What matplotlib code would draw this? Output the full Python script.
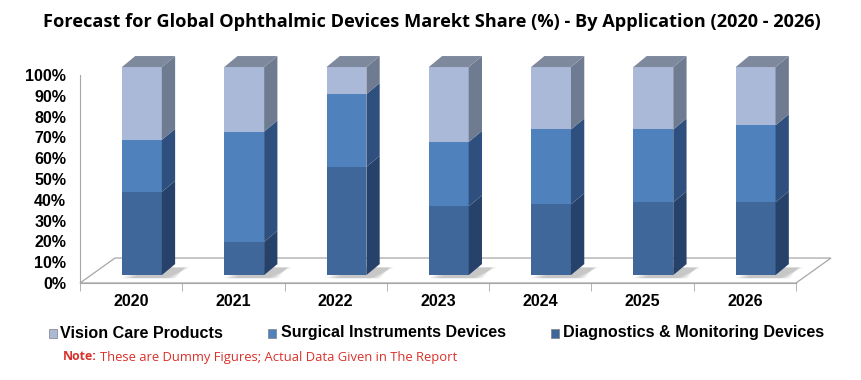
import numpy as np
import matplotlib
matplotlib.use('Agg')
import matplotlib.pyplot as plt
from matplotlib.patches import Polygon, Rectangle

years = ['2020', '2021', '2022', '2023', '2024', '2025', '2026']
diagnostics = [40, 16, 52, 33, 34, 35, 35]
surgical = [25, 53, 35, 31, 36, 35, 37]
vision = [35, 31, 13, 36, 30, 30, 28]

series = [
    ('Diagnostics & Monitoring Devices', diagnostics, '#40679A', '#27426A'),
    ('Surgical Instruments Devices', surgical, '#4F81BD', '#2F507E'),
    ('Vision Care Products', vision, '#AAB9D8', '#6E7B90'),
]
top_col = '#7E899D'

# 3d-ish offsets (data units)
off_x, off_y = 0.105, 3.8      # bar front plane behind axis plane
dep_x, dep_y = 0.13, 5.3       # bar depth
floor_x, floor_y = 0.342, 12.0
w = 0.39

fig = plt.figure(figsize=(8.61, 3.8), dpi=100)
ax = fig.add_axes([80 / 861, 97 / 380, 716 / 861, 233 / 380])
ax.set_xlim(0, 7)
ax.set_ylim(0, 112)


def fit(t, target):
    # shrink/grow a text so it spans target pixels
    fig.canvas.draw()
    wd = t.get_window_extent().width
    t.set_fontsize(t.get_fontsize() * target / wd)
    return t


# floor
floor = Polygon([(0, 0), (7, 0), (7 + floor_x, floor_y), (floor_x, floor_y)],
                closed=True, facecolor='white', edgecolor='#A6A6A6', lw=0.9,
                clip_on=False, zorder=1)
ax.add_patch(floor)

x = np.arange(len(years)) + 0.5 + off_x
# soft shadows on the floor
for xi in x:
    for k in range(6):
        sh = Polygon([(xi - w / 2 + 0.02 * k, off_y - 1.5),
                      (xi + w / 2 + 0.04 + 0.02 * k, off_y - 1.5),
                      (xi + w / 2 + dep_x + 0.14 - 0.01 * k, off_y + dep_y * 0.7),
                      (xi - w / 2 + dep_x + 0.05 + 0.02 * k, off_y + dep_y * 0.7)],
                     closed=True, facecolor='#505050', alpha=0.06, lw=0,
                     clip_on=False, zorder=2)
        ax.add_patch(sh)

cum = np.full(len(years), off_y, dtype=float)
for name, vals, front, side in series:
    vals = np.array(vals, dtype=float)
    ax.bar(x, vals, bottom=cum, width=w, color=front, lw=0, zorder=3, clip_on=False)
    for xi, b, v in zip(x, cum, vals):
        t = b + v
        sp = Polygon([(xi + w / 2, b), (xi + w / 2 + dep_x, b + dep_y),
                      (xi + w / 2 + dep_x, t + dep_y), (xi + w / 2, t)],
                     closed=True, facecolor=side, lw=0, zorder=3, clip_on=False)
        ax.add_patch(sp)
    cum = cum + vals

for xi, t in zip(x, cum):
    tp = Polygon([(xi - w / 2, t), (xi + w / 2, t),
                  (xi + w / 2 + dep_x, t + dep_y), (xi - w / 2 + dep_x, t + dep_y)],
                 closed=True, facecolor=top_col, lw=0, zorder=3, clip_on=False)
    ax.add_patch(tp)

# axes styling
for s in ['top', 'right']:
    ax.spines[s].set_visible(False)
ax.spines['left'].set_bounds(0, 100)
ax.spines['left'].set_color('#A6A6A6')
ax.spines['bottom'].set_color('#A6A6A6')
ax.set_yticks(np.arange(0, 101, 10))
ax.set_yticklabels([f'{v}%' for v in range(0, 101, 10)], fontsize=11.5,
                   fontweight='bold', family='Liberation Sans')
ax.tick_params(axis='y', length=0, pad=10)
ax.set_xticks(np.arange(len(years)) + 0.5)
ax.set_xticklabels(years, fontsize=11.5, fontweight='bold', family='Liberation Sans')
ax.set_xticks(np.arange(0, 8), minor=True)
ax.tick_params(axis='x', which='major', length=0, pad=8)
ax.tick_params(axis='x', which='minor', length=6, color='#A6A6A6', direction='out')

title = fig.text(43 / 861, 1 - 22 / 380,
                 'Forecast for Global Ophthalmic Devices Marekt Share (%) - By Application (2020 - 2026)',
                 ha='left', va='center', fontsize=13, fontweight='bold', family='Open Sans')
fit(title, 772)

# legend
leg = [('Vision Care Products', '#AAB9D8', 49, 60, 162),
       ('Surgical Instruments Devices', '#4F81BD', 268, 281, 223),
       ('Diagnostics & Monitoring Devices', '#40679A', 551, 563, 259)]
ly = 1 - 333 / 380
for name, col, mx, tx, tw in leg:
    fig.patches.append(Rectangle((mx / 861, ly - 4.5 / 380), 8 / 861, 9 / 380,
                                 transform=fig.transFigure, facecolor=col,
                                 edgecolor='#7F7F7F', lw=0.5))
    lt = fig.text(tx / 861, ly, name, ha='left', va='center', fontsize=12,
                  fontweight='bold', family='Liberation Sans')
    fit(lt, tw)

ny = 1 - 357 / 380
t1 = fig.text(63 / 861, ny, 'Note:', ha='left', va='center', fontsize=9.5,
              fontweight='bold', color='#D9312B', family='Open Sans')
fit(t1, 34)
fig.canvas.draw()
bb = t1.get_window_extent()
t2 = fig.text(bb.x1 / 861 + 3 / 861, ny, 'These are Dummy Figures; Actual Data Given in The Report',
              ha='left', va='center', fontsize=9.5, color='#D9312B', family='Open Sans')
fit(t2, 462 - bb.x1 - 3)

fig.savefig('out.png', dpi=100)
